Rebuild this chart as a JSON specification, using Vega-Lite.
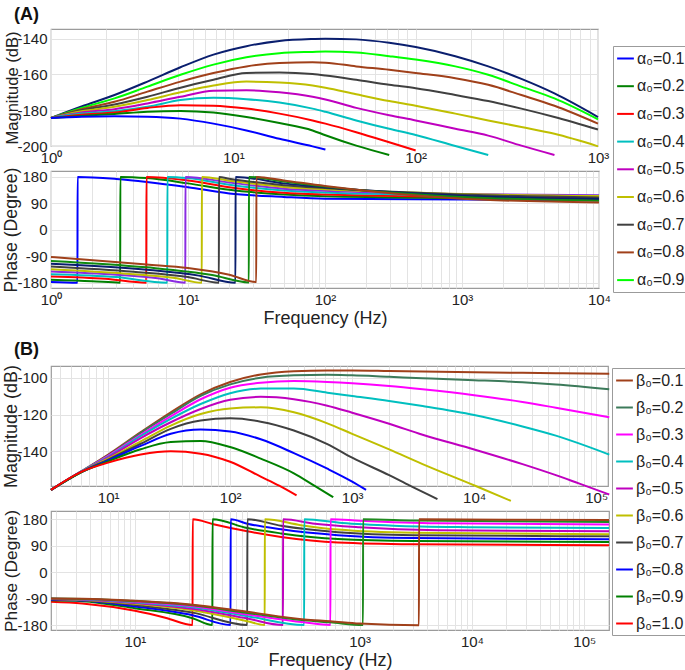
{
"$schema": "https://vega.github.io/schema/vega-lite/v6.json",
"padding": {"left": 2, "top": 5, "right": 0, "bottom": 0},
"autosize": {"type": "pad"},
"bounds": "flush",
"spacing": 25,
"data": {"values": [
{"p":"am","s":"1.0","f":1,"v":-184.3},{"p":"am","s":"1.0","f":1.47,"v":-177.9},{"p":"am","s":"1.0","f":2.23,"v":-171.5},{"p":"am","s":"1.0","f":3.38,"v":-164},{"p":"am","s":"1.0","f":5.13,"v":-156},{"p":"am","s":"1.0","f":7.78,"v":-148.9},{"p":"am","s":"1.0","f":11.8,"v":-144.2},{"p":"am","s":"1.0","f":17.9,"v":-141.3},{"p":"am","s":"1.0","f":27.2,"v":-140.2},{"p":"am","s":"1.0","f":32,"v":-140},{"p":"am","s":"1.0","f":47.2,"v":-140.4},{"p":"am","s":"1.0","f":71.6,"v":-142.3},{"p":"am","s":"1.0","f":100,"v":-144.7},{"p":"am","s":"1.0","f":165,"v":-149.8},{"p":"am","s":"1.0","f":250,"v":-155.5},{"p":"am","s":"1.0","f":380,"v":-162.5},{"p":"am","s":"1.0","f":577,"v":-170.6},{"p":"am","s":"1.0","f":1000,"v":-183.8},
{"p":"am","s":"0.9","f":1,"v":-184.3},{"p":"am","s":"0.9","f":1.47,"v":-178.7},{"p":"am","s":"0.9","f":2.23,"v":-173.4},{"p":"am","s":"0.9","f":3.38,"v":-166.8},{"p":"am","s":"0.9","f":5.13,"v":-160.2},{"p":"am","s":"0.9","f":7.78,"v":-154.5},{"p":"am","s":"0.9","f":11.8,"v":-150.4},{"p":"am","s":"0.9","f":17.9,"v":-148.1},{"p":"am","s":"0.9","f":27.2,"v":-147.4},{"p":"am","s":"0.9","f":32,"v":-147.2},{"p":"am","s":"0.9","f":47.2,"v":-147.7},{"p":"am","s":"0.9","f":71.6,"v":-149.8},{"p":"am","s":"0.9","f":100,"v":-151.7},{"p":"am","s":"0.9","f":165,"v":-155.5},{"p":"am","s":"0.9","f":250,"v":-160.2},{"p":"am","s":"0.9","f":380,"v":-166.8},{"p":"am","s":"0.9","f":577,"v":-173.4},{"p":"am","s":"0.9","f":1000,"v":-185.1},
{"p":"am","s":"0.8","f":1,"v":-184.3},{"p":"am","s":"0.8","f":1.47,"v":-179.4},{"p":"am","s":"0.8","f":2.23,"v":-175.3},{"p":"am","s":"0.8","f":3.38,"v":-169.6},{"p":"am","s":"0.8","f":5.13,"v":-164},{"p":"am","s":"0.8","f":7.78,"v":-159.2},{"p":"am","s":"0.8","f":11.8,"v":-155.5},{"p":"am","s":"0.8","f":17.9,"v":-153.6},{"p":"am","s":"0.8","f":27.2,"v":-153.2},{"p":"am","s":"0.8","f":32,"v":-153.4},{"p":"am","s":"0.8","f":47.2,"v":-155.5},{"p":"am","s":"0.8","f":71.6,"v":-157.4},{"p":"am","s":"0.8","f":100,"v":-159.2},{"p":"am","s":"0.8","f":165,"v":-162.1},{"p":"am","s":"0.8","f":250,"v":-165.8},{"p":"am","s":"0.8","f":380,"v":-171.5},{"p":"am","s":"0.8","f":577,"v":-177.5},{"p":"am","s":"0.8","f":1000,"v":-187.5},
{"p":"am","s":"0.7","f":1,"v":-184.3},{"p":"am","s":"0.7","f":1.47,"v":-180},{"p":"am","s":"0.7","f":2.23,"v":-176.8},{"p":"am","s":"0.7","f":3.38,"v":-172.5},{"p":"am","s":"0.7","f":5.13,"v":-167.4},{"p":"am","s":"0.7","f":7.78,"v":-163},{"p":"am","s":"0.7","f":11.8,"v":-159.2},{"p":"am","s":"0.7","f":17.9,"v":-158.9},{"p":"am","s":"0.7","f":27.2,"v":-159.8},{"p":"am","s":"0.7","f":32,"v":-160.6},{"p":"am","s":"0.7","f":47.2,"v":-163},{"p":"am","s":"0.7","f":71.6,"v":-165.8},{"p":"am","s":"0.7","f":100,"v":-167.7},{"p":"am","s":"0.7","f":165,"v":-171.5},{"p":"am","s":"0.7","f":250,"v":-174.9},{"p":"am","s":"0.7","f":380,"v":-179.1},{"p":"am","s":"0.7","f":577,"v":-183.8},{"p":"am","s":"0.7","f":1000,"v":-190.8},
{"p":"am","s":"0.6","f":1,"v":-184.3},{"p":"am","s":"0.6","f":1.47,"v":-180.6},{"p":"am","s":"0.6","f":2.23,"v":-178.1},{"p":"am","s":"0.6","f":3.38,"v":-174.3},{"p":"am","s":"0.6","f":5.13,"v":-170},{"p":"am","s":"0.6","f":7.78,"v":-166.2},{"p":"am","s":"0.6","f":11.8,"v":-164},{"p":"am","s":"0.6","f":17.9,"v":-164.5},{"p":"am","s":"0.6","f":27.2,"v":-166.2},{"p":"am","s":"0.6","f":32,"v":-167.4},{"p":"am","s":"0.6","f":47.2,"v":-171.1},{"p":"am","s":"0.6","f":71.6,"v":-174.9},{"p":"am","s":"0.6","f":100,"v":-177.5},{"p":"am","s":"0.6","f":165,"v":-181.9},{"p":"am","s":"0.6","f":250,"v":-185.7},{"p":"am","s":"0.6","f":380,"v":-189.4},{"p":"am","s":"0.6","f":577,"v":-193.2},{"p":"am","s":"0.6","f":1000,"v":-200.2},
{"p":"am","s":"0.5","f":1,"v":-184.3},{"p":"am","s":"0.5","f":1.47,"v":-181.3},{"p":"am","s":"0.5","f":2.23,"v":-179.4},{"p":"am","s":"0.5","f":3.38,"v":-176.2},{"p":"am","s":"0.5","f":5.13,"v":-172.5},{"p":"am","s":"0.5","f":7.78,"v":-169.1},{"p":"am","s":"0.5","f":11.8,"v":-168.9},{"p":"am","s":"0.5","f":17.9,"v":-170},{"p":"am","s":"0.5","f":27.2,"v":-172.5},{"p":"am","s":"0.5","f":32,"v":-174},{"p":"am","s":"0.5","f":47.2,"v":-178.7},{"p":"am","s":"0.5","f":71.6,"v":-182.8},{"p":"am","s":"0.5","f":100,"v":-185.7},{"p":"am","s":"0.5","f":165,"v":-190.4},{"p":"am","s":"0.5","f":250,"v":-194.2},{"p":"am","s":"0.5","f":380,"v":-199.8},{"p":"am","s":"0.5","f":577,"v":-205},
{"p":"am","s":"0.4","f":1,"v":-184.3},{"p":"am","s":"0.4","f":1.47,"v":-181.9},{"p":"am","s":"0.4","f":2.23,"v":-180.6},{"p":"am","s":"0.4","f":3.38,"v":-178.1},{"p":"am","s":"0.4","f":5.13,"v":-174.3},{"p":"am","s":"0.4","f":7.78,"v":-173},{"p":"am","s":"0.4","f":11.8,"v":-173.8},{"p":"am","s":"0.4","f":17.9,"v":-175.7},{"p":"am","s":"0.4","f":27.2,"v":-179.1},{"p":"am","s":"0.4","f":32,"v":-180.9},{"p":"am","s":"0.4","f":47.2,"v":-185.7},{"p":"am","s":"0.4","f":71.6,"v":-190.4},{"p":"am","s":"0.4","f":100,"v":-193.8},{"p":"am","s":"0.4","f":165,"v":-200},{"p":"am","s":"0.4","f":250,"v":-205},
{"p":"am","s":"0.3","f":1,"v":-184.3},{"p":"am","s":"0.3","f":1.47,"v":-182.5},{"p":"am","s":"0.3","f":2.23,"v":-181.3},{"p":"am","s":"0.3","f":3.38,"v":-178.7},{"p":"am","s":"0.3","f":5.13,"v":-177.2},{"p":"am","s":"0.3","f":7.78,"v":-177.5},{"p":"am","s":"0.3","f":11.8,"v":-179.1},{"p":"am","s":"0.3","f":17.9,"v":-181.9},{"p":"am","s":"0.3","f":27.2,"v":-185.7},{"p":"am","s":"0.3","f":32,"v":-187.5},{"p":"am","s":"0.3","f":47.2,"v":-192.3},{"p":"am","s":"0.3","f":71.6,"v":-197.9},{"p":"am","s":"0.3","f":100,"v":-202.5},
{"p":"am","s":"0.2","f":1,"v":-184.3},{"p":"am","s":"0.2","f":1.47,"v":-183.2},{"p":"am","s":"0.2","f":2.23,"v":-182.1},{"p":"am","s":"0.2","f":3.38,"v":-180.8},{"p":"am","s":"0.2","f":5.13,"v":-180.4},{"p":"am","s":"0.2","f":7.78,"v":-181.3},{"p":"am","s":"0.2","f":11.8,"v":-183.8},{"p":"am","s":"0.2","f":17.9,"v":-187.2},{"p":"am","s":"0.2","f":27.2,"v":-191.3},{"p":"am","s":"0.2","f":32,"v":-194},{"p":"am","s":"0.2","f":47.2,"v":-199.8},{"p":"am","s":"0.2","f":71.6,"v":-205},
{"p":"am","s":"0.1","f":1,"v":-184.3},{"p":"am","s":"0.1","f":1.47,"v":-183.6},{"p":"am","s":"0.1","f":2.23,"v":-183.4},{"p":"am","s":"0.1","f":3.38,"v":-183.6},{"p":"am","s":"0.1","f":5.13,"v":-184.7},{"p":"am","s":"0.1","f":7.78,"v":-187.5},{"p":"am","s":"0.1","f":11.8,"v":-191.3},{"p":"am","s":"0.1","f":17.9,"v":-196},{"p":"am","s":"0.1","f":27.2,"v":-200.2},{"p":"am","s":"0.1","f":32,"v":-202},
{"p":"ap","s":"0.1","f":1,"v":-176.6},{"p":"ap","s":"0.1","f":1.56,"v":-179},{"p":"ap","s":"0.1","f":1.563,"v":180},{"p":"ap","s":"0.1","f":3,"v":173},{"p":"ap","s":"0.1","f":5,"v":163},{"p":"ap","s":"0.1","f":10,"v":145},{"p":"ap","s":"0.1","f":20,"v":124},{"p":"ap","s":"0.1","f":50,"v":112},{"p":"ap","s":"0.1","f":100,"v":106},{"p":"ap","s":"0.1","f":1000,"v":103},{"p":"ap","s":"0.1","f":10000,"v":101},
{"p":"ap","s":"0.2","f":1,"v":-169},{"p":"ap","s":"0.2","f":2,"v":-174},{"p":"ap","s":"0.2","f":3.2,"v":-179},{"p":"ap","s":"0.2","f":3.206,"v":180},{"p":"ap","s":"0.2","f":5,"v":176},{"p":"ap","s":"0.2","f":10,"v":158},{"p":"ap","s":"0.2","f":20,"v":136},{"p":"ap","s":"0.2","f":50,"v":120},{"p":"ap","s":"0.2","f":100,"v":114},{"p":"ap","s":"0.2","f":1000,"v":108},{"p":"ap","s":"0.2","f":10000,"v":104},
{"p":"ap","s":"0.3","f":1,"v":-158},{"p":"ap","s":"0.3","f":2.5,"v":-166},{"p":"ap","s":"0.3","f":4.96,"v":-179},{"p":"ap","s":"0.3","f":4.97,"v":180},{"p":"ap","s":"0.3","f":10,"v":168},{"p":"ap","s":"0.3","f":20,"v":145},{"p":"ap","s":"0.3","f":50,"v":126},{"p":"ap","s":"0.3","f":100,"v":120},{"p":"ap","s":"0.3","f":1000,"v":112},{"p":"ap","s":"0.3","f":10000,"v":107},
{"p":"ap","s":"0.4","f":1,"v":-150},{"p":"ap","s":"0.4","f":3,"v":-160},{"p":"ap","s":"0.4","f":7.06,"v":-179},{"p":"ap","s":"0.4","f":7.075,"v":180},{"p":"ap","s":"0.4","f":10,"v":176},{"p":"ap","s":"0.4","f":20,"v":153},{"p":"ap","s":"0.4","f":50,"v":134},{"p":"ap","s":"0.4","f":100,"v":127},{"p":"ap","s":"0.4","f":1000,"v":118},{"p":"ap","s":"0.4","f":10000,"v":116},
{"p":"ap","s":"0.5","f":1,"v":-141},{"p":"ap","s":"0.5","f":3,"v":-152},{"p":"ap","s":"0.5","f":6,"v":-164},{"p":"ap","s":"0.5","f":9.56,"v":-179},{"p":"ap","s":"0.5","f":9.58,"v":180},{"p":"ap","s":"0.5","f":20,"v":161},{"p":"ap","s":"0.5","f":50,"v":140},{"p":"ap","s":"0.5","f":100,"v":133},{"p":"ap","s":"0.5","f":1000,"v":122},{"p":"ap","s":"0.5","f":10000,"v":118},
{"p":"ap","s":"0.6","f":1,"v":-133},{"p":"ap","s":"0.6","f":4,"v":-150},{"p":"ap","s":"0.6","f":8,"v":-163},{"p":"ap","s":"0.6","f":12.6,"v":-179},{"p":"ap","s":"0.6","f":12.63,"v":180},{"p":"ap","s":"0.6","f":20,"v":167},{"p":"ap","s":"0.6","f":50,"v":146},{"p":"ap","s":"0.6","f":100,"v":138},{"p":"ap","s":"0.6","f":1000,"v":122},{"p":"ap","s":"0.6","f":10000,"v":115},
{"p":"ap","s":"0.7","f":1,"v":-124},{"p":"ap","s":"0.7","f":4,"v":-142},{"p":"ap","s":"0.7","f":10,"v":-160},{"p":"ap","s":"0.7","f":16.8,"v":-179},{"p":"ap","s":"0.7","f":16.83,"v":180},{"p":"ap","s":"0.7","f":20,"v":174},{"p":"ap","s":"0.7","f":50,"v":152},{"p":"ap","s":"0.7","f":100,"v":142},{"p":"ap","s":"0.7","f":1000,"v":120},{"p":"ap","s":"0.7","f":10000,"v":110},
{"p":"ap","s":"1.0","f":1,"v":-115},{"p":"ap","s":"1.0","f":5,"v":-135},{"p":"ap","s":"1.0","f":12,"v":-155},{"p":"ap","s":"1.0","f":22.2,"v":-179},{"p":"ap","s":"1.0","f":22.25,"v":180},{"p":"ap","s":"1.0","f":50,"v":158},{"p":"ap","s":"1.0","f":100,"v":145},{"p":"ap","s":"1.0","f":1000,"v":116},{"p":"ap","s":"1.0","f":10000,"v":105},
{"p":"ap","s":"0.9","f":1,"v":-105},{"p":"ap","s":"0.9","f":5,"v":-127},{"p":"ap","s":"0.9","f":15,"v":-153},{"p":"ap","s":"0.9","f":27.8,"v":-178},{"p":"ap","s":"0.9","f":27.86,"v":180},{"p":"ap","s":"0.9","f":50,"v":164},{"p":"ap","s":"0.9","f":100,"v":147},{"p":"ap","s":"0.9","f":1000,"v":112},{"p":"ap","s":"0.9","f":10000,"v":99},
{"p":"ap","s":"0.8","f":1,"v":-92},{"p":"ap","s":"0.8","f":5,"v":-117},{"p":"ap","s":"0.8","f":10,"v":-129},{"p":"ap","s":"0.8","f":20,"v":-152},{"p":"ap","s":"0.8","f":31.5,"v":-177},{"p":"ap","s":"0.8","f":31.56,"v":180},{"p":"ap","s":"0.8","f":50,"v":168},{"p":"ap","s":"0.8","f":100,"v":149},{"p":"ap","s":"0.8","f":1000,"v":106},{"p":"ap","s":"0.8","f":10000,"v":93},
{"p":"bm","s":"0.1","f":3.4,"v":-161},{"p":"bm","s":"0.1","f":5.97,"v":-151.1},{"p":"bm","s":"0.1","f":10,"v":-141.8},{"p":"bm","s":"0.1","f":18.5,"v":-129.6},{"p":"bm","s":"0.1","f":32.6,"v":-118.8},{"p":"bm","s":"0.1","f":57.3,"v":-109},{"p":"bm","s":"0.1","f":100,"v":-102.3},{"p":"bm","s":"0.1","f":178,"v":-98.2},{"p":"bm","s":"0.1","f":333,"v":-96.4},{"p":"bm","s":"0.1","f":626,"v":-96},{"p":"bm","s":"0.1","f":1000,"v":-96},{"p":"bm","s":"0.1","f":2010,"v":-96.3},{"p":"bm","s":"0.1","f":3776,"v":-96.6},{"p":"bm","s":"0.1","f":10000,"v":-97},{"p":"bm","s":"0.1","f":24900,"v":-97.3},{"p":"bm","s":"0.1","f":46700,"v":-97.5},{"p":"bm","s":"0.1","f":128000,"v":-97.8},
{"p":"bm","s":"0.2","f":3.4,"v":-161},{"p":"bm","s":"0.2","f":5.97,"v":-151.1},{"p":"bm","s":"0.2","f":10,"v":-142.2},{"p":"bm","s":"0.2","f":18.5,"v":-130},{"p":"bm","s":"0.2","f":32.6,"v":-119.7},{"p":"bm","s":"0.2","f":57.3,"v":-109.9},{"p":"bm","s":"0.2","f":100,"v":-103.6},{"p":"bm","s":"0.2","f":178,"v":-100},{"p":"bm","s":"0.2","f":333,"v":-98.7},{"p":"bm","s":"0.2","f":626,"v":-98.4},{"p":"bm","s":"0.2","f":1000,"v":-98.7},{"p":"bm","s":"0.2","f":2010,"v":-99.5},{"p":"bm","s":"0.2","f":3776,"v":-100.2},{"p":"bm","s":"0.2","f":10000,"v":-101.3},{"p":"bm","s":"0.2","f":24900,"v":-102.5},{"p":"bm","s":"0.2","f":46700,"v":-103.7},{"p":"bm","s":"0.2","f":128000,"v":-106.3},
{"p":"bm","s":"0.3","f":3.4,"v":-161},{"p":"bm","s":"0.3","f":5.97,"v":-151.1},{"p":"bm","s":"0.3","f":10,"v":-142.5},{"p":"bm","s":"0.3","f":18.5,"v":-131},{"p":"bm","s":"0.3","f":32.6,"v":-121},{"p":"bm","s":"0.3","f":57.3,"v":-111.7},{"p":"bm","s":"0.3","f":100,"v":-105.4},{"p":"bm","s":"0.3","f":178,"v":-102.7},{"p":"bm","s":"0.3","f":333,"v":-101.8},{"p":"bm","s":"0.3","f":626,"v":-102.3},{"p":"bm","s":"0.3","f":1000,"v":-103},{"p":"bm","s":"0.3","f":2010,"v":-104.5},{"p":"bm","s":"0.3","f":3776,"v":-106.3},{"p":"bm","s":"0.3","f":10000,"v":-109.5},{"p":"bm","s":"0.3","f":24900,"v":-113.2},{"p":"bm","s":"0.3","f":46700,"v":-116.3},{"p":"bm","s":"0.3","f":128000,"v":-121.5},
{"p":"bm","s":"0.4","f":3.4,"v":-161},{"p":"bm","s":"0.4","f":5.97,"v":-151.1},{"p":"bm","s":"0.4","f":10,"v":-143},{"p":"bm","s":"0.4","f":18.5,"v":-131.7},{"p":"bm","s":"0.4","f":32.6,"v":-122.4},{"p":"bm","s":"0.4","f":57.3,"v":-114.3},{"p":"bm","s":"0.4","f":100,"v":-108.4},{"p":"bm","s":"0.4","f":178,"v":-105.9},{"p":"bm","s":"0.4","f":333,"v":-105.9},{"p":"bm","s":"0.4","f":626,"v":-108.1},{"p":"bm","s":"0.4","f":1000,"v":-109.9},{"p":"bm","s":"0.4","f":2010,"v":-112.6},{"p":"bm","s":"0.4","f":3776,"v":-115.4},{"p":"bm","s":"0.4","f":10000,"v":-120.3},{"p":"bm","s":"0.4","f":24900,"v":-126.5},{"p":"bm","s":"0.4","f":46700,"v":-131.5},{"p":"bm","s":"0.4","f":128000,"v":-141.8},
{"p":"bm","s":"0.5","f":3.4,"v":-161},{"p":"bm","s":"0.5","f":5.97,"v":-151.2},{"p":"bm","s":"0.5","f":10,"v":-143.4},{"p":"bm","s":"0.5","f":18.5,"v":-132.8},{"p":"bm","s":"0.5","f":32.6,"v":-124.2},{"p":"bm","s":"0.5","f":57.3,"v":-117},{"p":"bm","s":"0.5","f":100,"v":-112},{"p":"bm","s":"0.5","f":178,"v":-110.4},{"p":"bm","s":"0.5","f":333,"v":-111.7},{"p":"bm","s":"0.5","f":626,"v":-115.2},{"p":"bm","s":"0.5","f":1000,"v":-119},{"p":"bm","s":"0.5","f":2010,"v":-125},{"p":"bm","s":"0.5","f":3776,"v":-131},{"p":"bm","s":"0.5","f":10000,"v":-139},{"p":"bm","s":"0.5","f":24900,"v":-147},{"p":"bm","s":"0.5","f":46700,"v":-153},{"p":"bm","s":"0.5","f":72000,"v":-157.5},{"p":"bm","s":"0.5","f":128000,"v":-163.5},
{"p":"bm","s":"0.6","f":3.4,"v":-161},{"p":"bm","s":"0.6","f":5.97,"v":-151.3},{"p":"bm","s":"0.6","f":10,"v":-144},{"p":"bm","s":"0.6","f":18.5,"v":-134.6},{"p":"bm","s":"0.6","f":32.6,"v":-126},{"p":"bm","s":"0.6","f":57.3,"v":-119.7},{"p":"bm","s":"0.6","f":100,"v":-116.7},{"p":"bm","s":"0.6","f":178,"v":-116.1},{"p":"bm","s":"0.6","f":333,"v":-118.8},{"p":"bm","s":"0.6","f":626,"v":-124.8},{"p":"bm","s":"0.6","f":1000,"v":-130.5},{"p":"bm","s":"0.6","f":2010,"v":-139},{"p":"bm","s":"0.6","f":3776,"v":-147},{"p":"bm","s":"0.6","f":10300,"v":-158.9},{"p":"bm","s":"0.6","f":20000,"v":-167},
{"p":"bm","s":"0.7","f":3.4,"v":-161},{"p":"bm","s":"0.7","f":5.97,"v":-151.4},{"p":"bm","s":"0.7","f":10,"v":-144.5},{"p":"bm","s":"0.7","f":18.5,"v":-135.9},{"p":"bm","s":"0.7","f":32.6,"v":-127.8},{"p":"bm","s":"0.7","f":57.3,"v":-123.3},{"p":"bm","s":"0.7","f":100,"v":-122.1},{"p":"bm","s":"0.7","f":178,"v":-123.9},{"p":"bm","s":"0.7","f":333,"v":-128.7},{"p":"bm","s":"0.7","f":626,"v":-136.1},{"p":"bm","s":"0.7","f":1000,"v":-143.5},{"p":"bm","s":"0.7","f":2010,"v":-153},{"p":"bm","s":"0.7","f":2970,"v":-158.7},{"p":"bm","s":"0.7","f":5000,"v":-166},
{"p":"bm","s":"0.8","f":3.4,"v":-161},{"p":"bm","s":"0.8","f":5.97,"v":-151.5},{"p":"bm","s":"0.8","f":10,"v":-145},{"p":"bm","s":"0.8","f":18.5,"v":-137.1},{"p":"bm","s":"0.8","f":32.6,"v":-130.5},{"p":"bm","s":"0.8","f":57.3,"v":-128.2},{"p":"bm","s":"0.8","f":100,"v":-129.2},{"p":"bm","s":"0.8","f":178,"v":-133.5},{"p":"bm","s":"0.8","f":333,"v":-141},{"p":"bm","s":"0.8","f":626,"v":-149.5},{"p":"bm","s":"0.8","f":1000,"v":-156.5},{"p":"bm","s":"0.8","f":1300,"v":-161},
{"p":"bm","s":"0.9","f":3.4,"v":-161},{"p":"bm","s":"0.9","f":5.97,"v":-151.6},{"p":"bm","s":"0.9","f":10,"v":-145.5},{"p":"bm","s":"0.9","f":18.5,"v":-138.9},{"p":"bm","s":"0.9","f":32.6,"v":-135},{"p":"bm","s":"0.9","f":57.3,"v":-134.4},{"p":"bm","s":"0.9","f":100,"v":-137.7},{"p":"bm","s":"0.9","f":178,"v":-144},{"p":"bm","s":"0.9","f":333,"v":-152},{"p":"bm","s":"0.9","f":489,"v":-158.7},{"p":"bm","s":"0.9","f":700,"v":-165},
{"p":"bm","s":"1.0","f":3.4,"v":-161},{"p":"bm","s":"1.0","f":5.97,"v":-151.3},{"p":"bm","s":"1.0","f":10,"v":-146.2},{"p":"bm","s":"1.0","f":18.5,"v":-141.8},{"p":"bm","s":"1.0","f":32.6,"v":-140},{"p":"bm","s":"1.0","f":57.3,"v":-141.3},{"p":"bm","s":"1.0","f":100,"v":-145.7},{"p":"bm","s":"1.0","f":178,"v":-153.8},{"p":"bm","s":"1.0","f":252,"v":-158.7},{"p":"bm","s":"1.0","f":350,"v":-164},
{"p":"bp","s":"1.0","f":1.79,"v":-100},{"p":"bp","s":"1.0","f":3.4,"v":-106},{"p":"bp","s":"1.0","f":10,"v":-131},{"p":"bp","s":"1.0","f":19,"v":-155},{"p":"bp","s":"1.0","f":32.6,"v":-179},{"p":"bp","s":"1.0","f":32.67,"v":180},{"p":"bp","s":"1.0","f":50,"v":163},{"p":"bp","s":"1.0","f":100,"v":139},{"p":"bp","s":"1.0","f":200,"v":120},{"p":"bp","s":"1.0","f":640,"v":101},{"p":"bp","s":"1.0","f":3000,"v":95},{"p":"bp","s":"1.0","f":166000,"v":92},
{"p":"bp","s":"0.9","f":1.79,"v":-95},{"p":"bp","s":"0.9","f":3.4,"v":-98},{"p":"bp","s":"0.9","f":10,"v":-122},{"p":"bp","s":"0.9","f":32.6,"v":-156},{"p":"bp","s":"0.9","f":48.9,"v":-179},{"p":"bp","s":"0.9","f":49,"v":180},{"p":"bp","s":"0.9","f":100,"v":150},{"p":"bp","s":"0.9","f":200,"v":132},{"p":"bp","s":"0.9","f":640,"v":113},{"p":"bp","s":"0.9","f":3000,"v":106},{"p":"bp","s":"0.9","f":166000,"v":103},
{"p":"bp","s":"0.8","f":1.79,"v":-93},{"p":"bp","s":"0.8","f":3.4,"v":-96},{"p":"bp","s":"0.8","f":10,"v":-116},{"p":"bp","s":"0.8","f":32.6,"v":-146},{"p":"bp","s":"0.8","f":71,"v":-179},{"p":"bp","s":"0.8","f":71.15,"v":180},{"p":"bp","s":"0.8","f":100,"v":165},{"p":"bp","s":"0.8","f":200,"v":146},{"p":"bp","s":"0.8","f":640,"v":126},{"p":"bp","s":"0.8","f":3000,"v":116},{"p":"bp","s":"0.8","f":166000,"v":112},
{"p":"bp","s":"0.7","f":1.79,"v":-92},{"p":"bp","s":"0.7","f":3.4,"v":-95},{"p":"bp","s":"0.7","f":10,"v":-111},{"p":"bp","s":"0.7","f":32.6,"v":-137},{"p":"bp","s":"0.7","f":100,"v":-179},{"p":"bp","s":"0.7","f":100.2,"v":180},{"p":"bp","s":"0.7","f":200,"v":158},{"p":"bp","s":"0.7","f":640,"v":136},{"p":"bp","s":"0.7","f":3000,"v":126},{"p":"bp","s":"0.7","f":166000,"v":122},
{"p":"bp","s":"0.6","f":1.79,"v":-91},{"p":"bp","s":"0.6","f":3.4,"v":-94},{"p":"bp","s":"0.6","f":10,"v":-107},{"p":"bp","s":"0.6","f":32.6,"v":-129},{"p":"bp","s":"0.6","f":100,"v":-166},{"p":"bp","s":"0.6","f":143,"v":-179},{"p":"bp","s":"0.6","f":143.3,"v":180},{"p":"bp","s":"0.6","f":300,"v":160},{"p":"bp","s":"0.6","f":640,"v":145},{"p":"bp","s":"0.6","f":3000,"v":134},{"p":"bp","s":"0.6","f":166000,"v":129},
{"p":"bp","s":"0.5","f":1.79,"v":-90.5},{"p":"bp","s":"0.5","f":3.4,"v":-93},{"p":"bp","s":"0.5","f":10,"v":-104},{"p":"bp","s":"0.5","f":32.6,"v":-124},{"p":"bp","s":"0.5","f":100,"v":-157},{"p":"bp","s":"0.5","f":208,"v":-179},{"p":"bp","s":"0.5","f":208.4,"v":180},{"p":"bp","s":"0.5","f":400,"v":165},{"p":"bp","s":"0.5","f":1000,"v":153},{"p":"bp","s":"0.5","f":5000,"v":143},{"p":"bp","s":"0.5","f":166000,"v":139},
{"p":"bp","s":"0.4","f":1.79,"v":-90},{"p":"bp","s":"0.4","f":3.4,"v":-92},{"p":"bp","s":"0.4","f":10,"v":-102},{"p":"bp","s":"0.4","f":32.6,"v":-119},{"p":"bp","s":"0.4","f":100,"v":-149},{"p":"bp","s":"0.4","f":321,"v":-179},{"p":"bp","s":"0.4","f":321.6,"v":180},{"p":"bp","s":"0.4","f":700,"v":167},{"p":"bp","s":"0.4","f":2000,"v":158},{"p":"bp","s":"0.4","f":10000,"v":153},{"p":"bp","s":"0.4","f":166000,"v":150},
{"p":"bp","s":"0.3","f":1.79,"v":-89.5},{"p":"bp","s":"0.3","f":3.4,"v":-91},{"p":"bp","s":"0.3","f":10,"v":-100},{"p":"bp","s":"0.3","f":32.6,"v":-115},{"p":"bp","s":"0.3","f":100,"v":-143},{"p":"bp","s":"0.3","f":321,"v":-170},{"p":"bp","s":"0.3","f":550,"v":-179},{"p":"bp","s":"0.3","f":551,"v":180},{"p":"bp","s":"0.3","f":1000,"v":175},{"p":"bp","s":"0.3","f":5000,"v":166},{"p":"bp","s":"0.3","f":166000,"v":162},
{"p":"bp","s":"0.2","f":1.79,"v":-89},{"p":"bp","s":"0.2","f":3.4,"v":-90.5},{"p":"bp","s":"0.2","f":10,"v":-98},{"p":"bp","s":"0.2","f":32.6,"v":-112},{"p":"bp","s":"0.2","f":100,"v":-138},{"p":"bp","s":"0.2","f":321,"v":-163},{"p":"bp","s":"0.2","f":550,"v":-170},{"p":"bp","s":"0.2","f":1072,"v":-179},{"p":"bp","s":"0.2","f":1074,"v":180},{"p":"bp","s":"0.2","f":3000,"v":176},{"p":"bp","s":"0.2","f":20000,"v":173},{"p":"bp","s":"0.2","f":166000,"v":171},
{"p":"bp","s":"0.1","f":1.79,"v":-89},{"p":"bp","s":"0.1","f":3.4,"v":-90},{"p":"bp","s":"0.1","f":10,"v":-97},{"p":"bp","s":"0.1","f":32.6,"v":-110},{"p":"bp","s":"0.1","f":100,"v":-134},{"p":"bp","s":"0.1","f":321,"v":-160},{"p":"bp","s":"0.1","f":550,"v":-166},{"p":"bp","s":"0.1","f":1000,"v":-174},{"p":"bp","s":"0.1","f":3375,"v":-179.5},{"p":"bp","s":"0.1","f":3382,"v":180},{"p":"bp","s":"0.1","f":20000,"v":178.5},{"p":"bp","s":"0.1","f":166000,"v":177.5}
]},
"resolve": {"scale": {"color": "independent"}},
"config": {
  "font": "Liberation Sans",
  "view": {"stroke": "#9b9b9b", "strokeWidth": 1.2},
  "axis": {"labelFont": "Liberation Sans", "labelFontSize": 15, "labelColor": "#222222", "titleFont": "Liberation Sans", "titleFontWeight": "normal", "titleColor": "#222222", "gridColor": "#e3e3e3", "gridWidth": 1, "domain": false, "ticks": false, "labelPadding": 4, "labelOverlap": false, "labelFlush": false},
  "axisY": {"titlePadding": -4},
  "axisX": {"titlePadding": 2},
  "legend": {"symbolType": "stroke", "symbolStrokeWidth": 2, "symbolSize": 280, "labelFont": "Liberation Sans", "labelFontSize": 16, "labelColor": "#222222", "padding": 3, "strokeColor": "#9b9b9b", "fillColor": "#ffffff", "labelOffset": 2, "direction": "vertical", "orient": "none"},
  "line": {"strokeWidth": 2, "clip": true, "interpolate": "monotone"}
},
"vconcat": [
{
 "width": 547, "height": 117,
 "title": {"text": "(A)", "anchor": "start", "frame": "group", "dx": -37, "offset": 5, "fontSize": 18, "fontWeight": "bold", "color": "#111111"},
 "transform": [{"filter": "datum.p == 'am'"}],
 "mark": {"type": "line"},
 "encoding": {
  "x": {"field": "f", "type": "quantitative", "scale": {"type": "log", "domain": [1, 1000], "nice": false}, "axis": {"title": null, "values": [1,2,3,4,5,6,7,8,9,10,20,30,40,50,60,70,80,90,100,200,300,400,500,600,700,800,900,1000], "labelExpr": "datum.value==1?'10⁰':datum.value==10?'10¹':datum.value==100?'10²':datum.value==1000?'10³':datum.value==10000?'10⁴':datum.value==100000?'10⁵':''"}},
  "y": {"field": "v", "type": "quantitative", "scale": {"domain": [-200, -134.6], "nice": false, "zero": false}, "axis": {"title": "Magnitude (dB)", "titleFontSize": 16.5, "values": [-200,-180,-160,-140], "labelExpr": "datum.value < 0 ? '-' + abs(datum.value) : '' + datum.value"}},
  "color": {"field": "s", "type": "nominal", "scale": {"domain": ["0.1","0.2","0.3","0.4","0.5","0.6","0.7","0.8","0.9","1.0"], "range": ["#0000ff","#008000","#ff0000","#00bfbf","#bf00bf","#bfbf00","#404040","#a0401a","#00ff00","#0a1e6e"]}, "legend": {"title": null, "values": ["0.1","0.2","0.3","0.4","0.5","0.6","0.7","0.8","0.9"], "labelExpr": "'α₀=' + datum.label", "legendX": 562, "legendY": 17, "rowPadding": 9.7}}
 }
},
{
 "width": 548, "height": 117,
 "transform": [{"filter": "datum.p == 'ap'"}],
 "mark": {"type": "line"},
 "encoding": {
  "x": {"field": "f", "type": "quantitative", "scale": {"type": "log", "domain": [1, 10000], "nice": false}, "axis": {"title": "Frequency (Hz)", "titleFontSize": 18, "values": [1,2,3,4,5,6,7,8,9,10,20,30,40,50,60,70,80,90,100,200,300,400,500,600,700,800,900,1000,2000,3000,4000,5000,6000,7000,8000,9000,10000], "labelExpr": "datum.value==1?'10⁰':datum.value==10?'10¹':datum.value==100?'10²':datum.value==1000?'10³':datum.value==10000?'10⁴':datum.value==100000?'10⁵':''"}},
  "y": {"field": "v", "type": "quantitative", "scale": {"domain": [-197, 200], "nice": false, "zero": false}, "axis": {"title": "Phase (Degree)", "titleFontSize": 17.7, "values": [-180,-90,0,90,180], "labelExpr": "datum.value < 0 ? '-' + abs(datum.value) : '' + datum.value"}},
  "color": {"field": "s", "type": "nominal", "scale": {"domain": ["0.1","0.2","0.3","0.4","0.5","0.6","0.7","0.8","0.9","1.0"], "range": ["#0000ff","#008000","#ff0000","#00bfbf","#8a2be2","#bfbf00","#404040","#a0401a","#108a10","#0a1e6e"]}, "legend": null}
 }
},
{
 "width": 10, "height": 28,
 "data": {"values": []},
 "mark": {"type": "point"},
 "encoding": {},
 "view": {"stroke": null}
},
{
 "width": 557, "height": 120,
 "title": {"text": "(B)", "anchor": "start", "frame": "group", "dx": -37, "offset": 5, "fontSize": 18, "fontWeight": "bold", "color": "#111111"},
 "transform": [{"filter": "datum.p == 'bm'"}],
 "mark": {"type": "line"},
 "encoding": {
  "x": {"field": "f", "type": "quantitative", "scale": {"type": "log", "domain": [3.4, 125000], "nice": false}, "axis": {"title": null, "values": [4,5,6,7,8,9,10,20,30,40,50,60,70,80,90,100,200,300,400,500,600,700,800,900,1000,2000,3000,4000,5000,6000,7000,8000,9000,10000,20000,30000,40000,50000,60000,70000,80000,90000,100000], "labelExpr": "datum.value==1?'10⁰':datum.value==10?'10¹':datum.value==100?'10²':datum.value==1000?'10³':datum.value==10000?'10⁴':datum.value==100000?'10⁵':''"}},
  "y": {"field": "v", "type": "quantitative", "scale": {"domain": [-158.9, -93.6], "nice": false, "zero": false}, "axis": {"title": "Magnitude (dB)", "titleFontSize": 18, "values": [-140,-120,-100], "labelExpr": "datum.value < 0 ? '-' + abs(datum.value) : '' + datum.value"}},
  "color": {"field": "s", "type": "nominal", "scale": {"domain": ["0.1","0.2","0.3","0.4","0.5","0.6","0.7","0.8","0.9","1.0"], "range": ["#a0401a","#3c7a5a","#ff00ff","#00bfbf","#bf00bf","#bfbf00","#404040","#0000ff","#008000","#ff0000"]}, "legend": {"title": null, "labelExpr": "'β₀=' + datum.label", "legendX": 561, "legendY": 2, "rowPadding": 9}}
 }
},
{
 "width": 558, "height": 119,
 "transform": [{"filter": "datum.p == 'bp'"}],
 "mark": {"type": "line"},
 "encoding": {
  "x": {"field": "f", "type": "quantitative", "scale": {"type": "log", "domain": [1.79, 166000], "nice": false}, "axis": {"title": "Frequency (Hz)", "titleFontSize": 18, "values": [2,3,4,5,6,7,8,9,10,20,30,40,50,60,70,80,90,100,200,300,400,500,600,700,800,900,1000,2000,3000,4000,5000,6000,7000,8000,9000,10000,20000,30000,40000,50000,60000,70000,80000,90000,100000], "labelExpr": "datum.value==1?'10⁰':datum.value==10?'10¹':datum.value==100?'10²':datum.value==1000?'10³':datum.value==10000?'10⁴':datum.value==100000?'10⁵':''"}},
  "y": {"field": "v", "type": "quantitative", "scale": {"domain": [-196, 208], "nice": false, "zero": false}, "axis": {"title": "Phase (Degree)", "titleFontSize": 17.3, "values": [-180,-90,0,90,180], "labelExpr": "datum.value < 0 ? '-' + abs(datum.value) : '' + datum.value"}},
  "color": {"field": "s", "type": "nominal", "scale": {"domain": ["0.1","0.2","0.3","0.4","0.5","0.6","0.7","0.8","0.9","1.0"], "range": ["#a0401a","#208a20","#ff00ff","#00bfbf","#bf00bf","#bfbf00","#404040","#0000ff","#008000","#ff0000"]}, "legend": null}
 }
}
]
}
